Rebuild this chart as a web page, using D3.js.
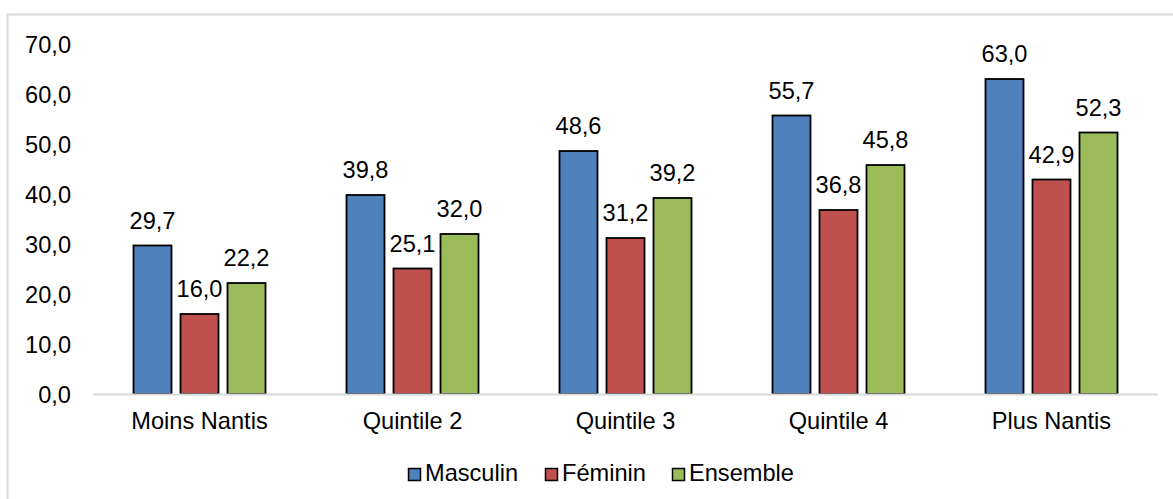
<!DOCTYPE html>
<html><head><meta charset="utf-8">
<script src="https://cdn.jsdelivr.net/npm/d3@7"></script>
<style>html,body{margin:0;padding:0;background:#fff;} svg{display:block;font-family:Arial,"Liberation Sans",sans-serif;}</style>
</head><body><svg id="c" width="1173" height="499"></svg>
<script>
const categories = ["Moins Nantis","Quintile 2","Quintile 3","Quintile 4","Plus Nantis"];
const seriesNames = ["Masculin","Féminin","Ensemble"];
const masculin = [29.7,39.8,48.6,55.7,63.0];
const feminin = [16.0,25.1,31.2,36.8,42.9];
const ensemble = [22.2,32.0,39.2,45.8,52.3];
const yTicks = [0,10,20,30,40,50,60,70];
const colors = ["#4F81BD","#C0504D","#9BBB59"];

(function(){
const FS = 23.6;
const svg = d3.select("#c");
const fmt = v => d3.format(".1f")(v).replace(".", ",");
const seriesVals = [masculin, feminin, ensemble];

// frame
svg.append("rect").attr("x",7.5).attr("y",14.5).attr("width",1200).attr("height",600)
  .attr("fill","none").attr("stroke","#d9d9d9").attr("stroke-width",2);

const pL = 93, pR = 1158, pT = 44, pB = 394;
const x = d3.scaleBand().domain(categories).range([pL,pR]).paddingInner(0).paddingOuter(0);
const y = d3.scaleLinear().domain([0,70]).range([pB, pT]);
const barW = 38, gap = 9;
const groupW = 3*barW+2*gap;
const xs = d3.scaleBand().domain(seriesNames).range([0, groupW]).paddingInner(gap/(barW+gap)).paddingOuter(0);

// y tick labels
const yAxis = d3.axisLeft(y).tickValues(yTicks).tickFormat(fmt).tickSize(0).tickPadding(0);
const ya = svg.append("g").attr("transform","translate(71,0)").call(yAxis);
ya.select(".domain").remove();
ya.selectAll("text").attr("font-size",FS).attr("fill","#000").attr("font-family","Arial, 'Liberation Sans', sans-serif").attr("dy","0.35em");

// bars
seriesNames.forEach((s, si) => {
  const g = svg.append("g");
  const bx = c => x(c) + (x.bandwidth() - groupW)/2 + xs(s);
  g.selectAll("rect").data(categories).join("rect")
    .attr("x", bx)
    .attr("y", (c,i) => y(seriesVals[si][i]))
    .attr("width", xs.bandwidth())
    .attr("height", (c,i) => y(0) - y(seriesVals[si][i]))
    .attr("fill", colors[si]).attr("stroke","#000").attr("stroke-width",1.8);
  g.selectAll("text").data(categories).join("text")
    .attr("x", c => bx(c) + xs.bandwidth()/2)
    .attr("y", (c,i) => y(seriesVals[si][i]) - 17)
    .attr("text-anchor","middle").attr("font-size",FS).attr("fill","#000")
    .text((c,i) => fmt(seriesVals[si][i]));
});

// baseline
svg.append("line").attr("x1",pL).attr("x2",pR).attr("y1",pB+0.5).attr("y2",pB+0.5)
  .attr("stroke","#d9d9d9").attr("stroke-width",2);

// x axis labels
const xAxis = d3.axisBottom(x).tickSize(0).tickPadding(0);
const xa = svg.append("g").attr("transform",`translate(0,${pB})`).call(xAxis);
xa.select(".domain").remove();
xa.selectAll("text").attr("font-size",FS).attr("fill","#000").attr("font-family","Arial, 'Liberation Sans', sans-serif").attr("y",35).attr("dy",0);

// legend
const legX = [408, 545, 672];
const leg = svg.append("g");
seriesNames.forEach((s, i) => {
  leg.append("rect").attr("x",legX[i]+0.5).attr("y",468.5).attr("width",12).attr("height",12)
    .attr("fill",colors[i]).attr("stroke","#000").attr("stroke-width",1.5);
  leg.append("text").attr("x",legX[i]+17).attr("y",480.5).attr("font-size",FS).attr("fill","#000").text(s);
});
})();
</script></body></html>
